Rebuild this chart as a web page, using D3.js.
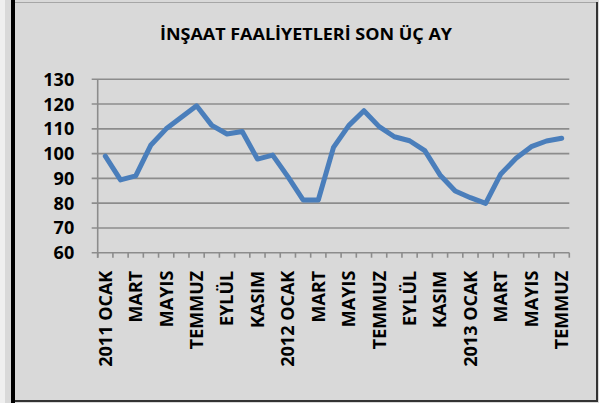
<!DOCTYPE html>
<html>
<head>
<meta charset="utf-8">
<script src="https://cdn.jsdelivr.net/npm/d3@7"></script>
<style>
  body { margin: 0; background: #d9d9d9; }
  svg { display: block; }
</style>
</head>
<body>
<div id="chart"></div>
<script>
var title = "İNŞAAT FAALİYETLERİ SON ÜÇ AY";

var months = ["2011 OCAK","ŞUBAT","MART","NİSAN","MAYIS","HAZİRAN","TEMMUZ","AĞUSTOS","EYLÜL","EKİM","KASIM","ARALIK",
              "2012 OCAK","ŞUBAT","MART","NİSAN","MAYIS","HAZİRAN","TEMMUZ","AĞUSTOS","EYLÜL","EKİM","KASIM","ARALIK",
              "2013 OCAK","ŞUBAT","MART","NİSAN","MAYIS","HAZİRAN","TEMMUZ"];

var values = [99, 89.4, 91, 103.5, 110, 114.7, 119.3, 111.4, 107.9, 108.9, 97.8, 99.4, 90.7, 81.3, 81.3,
              102.5, 111.3, 117.3, 110.9, 106.8, 105.2, 101.2, 91.4, 84.9, 82.2, 79.9, 91.8, 98.1, 102.8, 105.1, 106.2];

var yTicks = [60, 70, 80, 90, 100, 110, 120, 130];

var width = 599, height = 403;
var margin = { top: 79.3, right: 29.7, bottom: 150.3, left: 97.7 };
var font = '"Open Sans", sans-serif';

var svg = d3.select('#chart').append('svg')
    .attr('width', width)
    .attr('height', height);

// outer frame
svg.append('rect').attr('x', 0).attr('y', 0).attr('width', 5).attr('height', height).attr('fill', '#efefef');
svg.append('line').attr('x1', 13).attr('x2', 597).attr('y1', 2.5).attr('y2', 2.5).attr('stroke', '#a6a6a6').attr('stroke-width', 1);
svg.append('line').attr('x1', 597).attr('x2', 597).attr('y1', 2).attr('y2', 402).attr('stroke', '#333').attr('stroke-width', 2);
svg.append('line').attr('x1', 13).attr('x2', 598).attr('y1', 401).attr('y2', 401).attr('stroke', '#333').attr('stroke-width', 2);
svg.append('line').attr('x1', 13).attr('x2', 13).attr('y1', 0).attr('y2', height).attr('stroke', '#000').attr('stroke-width', 4);

var plotW = width - margin.left - margin.right;
var plotH = height - margin.top - margin.bottom;

var xScale = d3.scaleBand()
    .domain(months.map(function(d, i) { return i; }))
    .range([0, plotW])
    .padding(0);

var yScale = d3.scaleLinear()
    .domain([60, 130])
    .range([plotH, 0]);

var g = svg.append('g')
    .attr('transform', 'translate(' + margin.left + ',' + margin.top + ')');

// gridlines
g.append('g')
    .selectAll('line').data(yTicks)
    .enter().append('line')
        .attr('x1', -6)
        .attr('x2', plotW)
        .attr('y1', function(d) { return yScale(d); })
        .attr('y2', function(d) { return yScale(d); })
        .attr('stroke', '#8c8c8c')
        .attr('stroke-width', 1.6);

// y axis line
g.append('line')
    .attr('x1', 0).attr('x2', 0)
    .attr('y1', 0).attr('y2', plotH + 5)
    .attr('stroke', '#8c8c8c')
    .attr('stroke-width', 1.6);

// x ticks at category boundaries
var bounds = d3.range(months.length + 1);
g.append('g')
    .selectAll('line').data(bounds)
    .enter().append('line')
        .attr('x1', function(d) { return d * xScale.step(); })
        .attr('x2', function(d) { return d * xScale.step(); })
        .attr('y1', plotH)
        .attr('y2', plotH + 5)
        .attr('stroke', '#8c8c8c')
        .attr('stroke-width', 1.6);

// y labels
g.append('g')
    .selectAll('text').data(yTicks)
    .enter().append('text')
        .attr('x', -23.5)
        .attr('y', function(d) { return yScale(d); })
        .attr('dy', '0.36em')
        .attr('text-anchor', 'end')
        .style('font-family', font)
        .style('font-weight', 'bold')
        .style('font-size', '18px')
        .attr('fill', '#000')
        .text(function(d) { return d; });

// x labels, every second month
g.append('g')
    .selectAll('text').data(months.map(function(m, i) { return { m: m, i: i }; }).filter(function(d) { return d.i % 2 === 0; }))
    .enter().append('text')
        .attr('transform', function(d) {
            return 'translate(' + (xScale(d.i) + xScale.bandwidth() / 2) + ',' + (plotH + 18) + ') rotate(-90)';
        })
        .attr('dy', '0.36em')
        .attr('text-anchor', 'end')
        .style('font-family', font)
        .style('font-weight', 'bold')
        .style('font-size', '18px')
        .attr('fill', '#000')
        .text(function(d) { return d.m; });

// series line
var line = d3.line()
    .x(function(d, i) { return xScale(i) + xScale.bandwidth() / 2; })
    .y(function(d) { return yScale(d); });

g.append('path')
    .datum(values)
    .attr('d', line)
    .attr('fill', 'none')
    .attr('stroke', '#4a7ebb')
    .attr('stroke-width', 5)
    .attr('stroke-linejoin', 'round')
    .attr('stroke-linecap', 'round');

// title
svg.append('text')
    .attr('x', 306)
    .attr('y', 39.7)
    .attr('text-anchor', 'middle')
    .attr('textLength', 292)
    .attr('lengthAdjust', 'spacingAndGlyphs')
    .style('font-family', font)
    .style('font-weight', 'bold')
    .style('font-size', '16px')
    .attr('fill', '#000')
    .text(title);
</script>
</body>
</html>
